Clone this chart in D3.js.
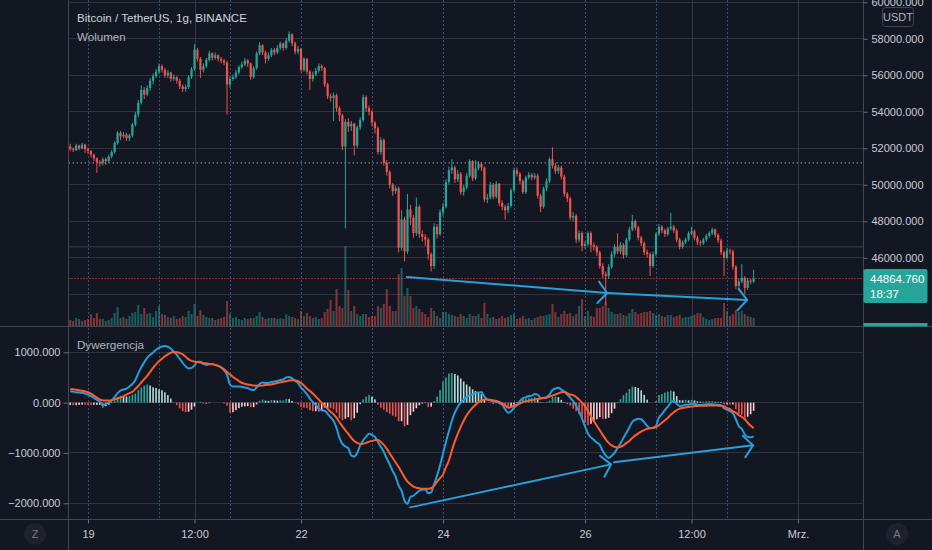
<!DOCTYPE html>
<html><head><meta charset="utf-8">
<script src="https://cdn.jsdelivr.net/npm/d3@7"></script>
<style>html,body{margin:0;padding:0;background:#131722;overflow:hidden}svg{display:block}text{font-family:"Liberation Sans",Arial,sans-serif}</style>
</head><body><svg id="c" width="932" height="550"></svg>
<script>
// ---------- DATA ----------
const firstBarTime = new Date(2021, 1, 18, 18, 0); // 1h bars, BTC/USDT Binance
const firstOpen = 52100;
const closes = [
51950,51900,52150,52000,52200,51950,51850,51650,51450,51250,
51200,51400,51300,51550,51800,52300,52850,52650,52750,52550,
52700,53300,53850,54500,55200,54950,55300,55700,55950,56200,
56500,56300,56000,56150,55800,55900,55700,55400,55250,55350,
55900,56350,57400,56900,56300,56500,56850,57200,56950,57100,
56900,56800,56700,55500,55800,55900,56150,56450,56600,56800,
56650,55900,56400,57200,57650,57250,56900,57100,57400,57250,
57500,57750,57500,57900,58250,57750,57300,57450,56300,56900,
56200,55800,56050,56250,56500,56400,55500,54850,54750,54900,
54200,53800,52100,53450,53200,53350,52150,53150,53550,54800,
54200,54000,53400,53100,51800,52450,51200,50700,50000,49650,
49800,46550,48100,46350,48650,48200,47350,48800,47300,47150,
47000,46200,45550,47700,47300,48500,48800,50150,50800,50950,
50300,50600,49600,49850,50500,51300,50350,50900,51150,50950,
49200,49300,50000,49350,50050,49000,48800,48600,48850,49700,
50800,50600,50200,49600,50400,50550,50400,50500,49400,48800,
49800,50200,51400,51050,50750,50950,50450,49500,49250,48200,
48300,47000,47350,46650,46750,47350,46700,46600,46300,45550,
45100,45000,45500,46200,46600,46350,46700,46150,47000,47550,
48000,47650,47100,46800,46300,46200,45550,46200,47300,47700,
47500,47300,47600,47700,47500,47000,46600,46850,47000,47350,
47450,47100,46850,46800,47000,47200,47350,47550,47250,46950,
46300,46000,46400,46350,45500,44450,44700,44900,44350,44750,
44700,44864.76];
const highs = [
52250,52050,52250,52200,52300,52250,52050,51900,51700,51500,
51350,51500,51500,51650,51900,52400,52950,52950,52900,52850,
52800,53400,54000,54650,55450,55350,55450,55850,56100,56350,
56650,56600,56400,56300,56200,56050,55950,55800,55500,55500,
56000,56450,57700,57500,57000,56650,56950,57350,57250,57250,
57150,57000,56900,56800,55950,56050,56300,56550,56750,56950,
56900,56700,56500,57300,57800,57700,57350,57250,57500,57500,
57650,57850,57800,58050,58400,58300,57850,57600,57500,57000,
56950,56300,56200,56400,56650,56600,56450,55600,55000,55050,
55000,54300,53900,53600,53650,53500,53400,53250,53700,54950,
54900,54350,54100,53500,53200,52600,52550,51350,50800,50100,
49950,49900,48600,48250,49500,48900,48350,49300,48900,47500,
47300,47100,46300,47900,47850,48650,49000,50300,51000,51400,
51050,50800,50700,50000,50650,51400,51350,51350,51300,51250,
51000,49500,50150,50100,50200,50100,49150,48900,49000,49800,
50950,50950,50700,50300,50500,50700,50650,50650,50600,49500,
49900,50350,51500,52050,51200,51100,51050,50550,49600,49350,
48500,48400,47500,47450,46900,47450,47450,46850,46700,46400,
45700,45250,45650,46350,46750,47350,46850,46800,47100,47700,
48350,48100,47750,47200,46900,46450,46300,46350,47400,47850,
47800,47600,47700,48450,47800,47600,47100,46950,47100,47450,
47700,47550,47200,46950,47100,47300,47450,47650,47600,47350,
47050,46400,46550,46500,46450,45600,44850,45650,45000,44900,
44850,45350];
const lows = [
51850,51800,51850,51900,51950,51750,51700,51500,51300,50650,
51000,51050,51100,51200,51450,51700,52200,52450,52550,52400,
52400,52600,53200,53700,54400,54700,54850,55150,55500,55850,
56100,56150,55850,55850,55650,55700,55550,55250,55100,55100,
55250,55800,56250,56750,55850,56150,56400,56750,56800,56850,
56750,56650,56550,53850,55300,55700,55800,56050,56350,56500,
56450,55750,55800,56300,57100,57100,56650,56800,57000,57100,
57150,57400,57350,57400,57800,57600,57150,57150,56150,56200,
56050,55200,55650,55950,56150,56250,55350,54700,54550,53500,
54000,53500,51900,47620,52900,52950,51600,52000,53000,53450,
54000,53800,53200,52800,51650,51650,51050,50500,49800,49400,
49500,46300,46400,45800,46200,47800,47100,47200,47100,46900,
46650,45900,45250,45400,47050,47200,48300,48700,50000,50600,
50100,50150,49450,49400,49750,50400,50200,50250,50800,50750,
49050,49000,49200,49200,49250,48850,48600,48100,48450,48750,
49600,50450,50050,49500,49500,50300,50250,50300,49250,48500,
48700,49650,50100,50900,50600,50600,50300,49350,49050,48050,
48000,46800,46850,46350,46500,46650,46300,46400,46100,45400,
44900,43400,44850,45400,46050,46200,46200,45950,46050,46900,
47450,47500,46950,46650,46150,46000,45000,45450,46100,47200,
47350,47150,47200,47500,47350,46850,46450,46500,46750,46900,
47250,46950,46700,46650,46700,46900,47100,47250,47100,46800,
46150,45000,45900,46200,45350,44300,44350,44600,44000,44250,
44550,44600];
const volumes = [
2400,2000,3200,2800,2000,2400,2800,4800,3200,5200,
2800,2800,2000,2400,3200,5200,7600,3200,3600,2800,
4000,5200,5600,8400,4800,7200,4800,5200,3600,6000,
8000,4800,4400,3600,3200,4000,2800,3200,4000,3600,
6000,4800,8800,4000,6400,4400,3600,3200,3200,2400,
2800,3200,3600,10000,4800,3200,3600,2800,2400,3200,
2800,3200,3200,4000,5600,3600,2800,3200,3200,3200,
2800,3200,2800,4800,4000,3600,3200,2800,6000,4000,
5200,4000,3200,3600,2800,3200,5600,6800,10400,6000,
14800,8000,7200,32000,14400,6000,8000,4800,4000,4800,
4800,3600,4000,4000,8000,7200,8800,14800,8000,6000,
6000,20800,23200,12000,15200,12000,7200,8000,6800,5600,
4800,3600,7200,6000,4000,3200,5600,5600,4800,4400,
4000,3600,4800,4000,3200,4800,4000,4000,4800,3200,
9200,4800,3200,3600,2800,3200,4000,3200,3600,4400,
4800,2800,3200,4000,2800,3200,2400,3200,3600,4000,
4000,4400,4800,8800,5600,3600,4800,6000,4800,5200,
4000,4800,8000,10800,4000,6000,4000,3600,7200,7200,
8000,9600,7200,5600,4800,4800,5200,4400,4000,5200,
6800,5600,4800,5200,5600,5600,6000,5200,4400,4800,
4000,3600,4400,4400,3600,4000,4400,3200,3600,3600,
4000,4400,5200,5200,3600,2800,2400,2800,3200,3200,
3200,9200,6000,4000,4800,6400,5600,6000,4800,4000,
3600,3200];
const macdLine = [
227,215,205,200,195,180,160,130,95,55,
20,-55,-30,0,40,110,190,240,260,280,
320,370,450,580,700,800,890,950,995,1050,
1090,1115,1125,1110,1070,1010,950,870,790,720,
680,690,740,810,810,770,750,760,765,750,
730,700,640,550,360,320,320,320,315,300,
290,260,250,300,370,400,390,390,410,420,
430,450,460,500,510,480,430,390,300,240,
170,80,10,-50,-120,-150,-160,-220,-290,-360,
-500,-700,-820,-870,-910,-1050,-1070,-1000,-850,-750,
-680,-620,-640,-680,-780,-880,-980,-1110,-1230,-1360,
-1470,-1650,-1750,-1950,-2010,-1870,-1850,-1800,-1750,-1730,
-1720,-1800,-1780,-1620,-1450,-1250,-1010,-780,-570,-360,
-200,-80,0,60,110,150,165,190,200,210,
120,60,45,20,25,-10,-40,-130,-200,-170,
-100,-50,30,90,110,130,140,170,160,90,
95,110,160,250,280,295,260,220,160,100,
30,-60,-170,-320,-470,-620,-690,-740,-790,-840,
-960,-1050,-1100,-1060,-1000,-900,-810,-700,-600,-490,
-380,-340,-320,-330,-390,-460,-510,-500,-460,-300,
-230,-150,-80,0,30,-20,-70,-60,-40,-40,
-20,-25,-40,-45,-40,-35,-30,-30,-40,-40,
-50,-110,-140,-170,-210,-330,-470,-520,-630,-680,
-690,-670];
const signalLine = [
273,265,255,245,235,222,207,180,140,100,
62,45,40,42,50,65,85,105,130,160,
190,215,270,330,400,465,530,610,690,760,
825,870,920,960,990,1005,1000,985,960,910,
860,830,815,805,795,790,780,770,765,750,
730,700,660,610,560,510,470,430,395,375,
360,350,340,335,333,340,350,355,360,375,
390,405,415,425,440,447,440,425,390,340,
280,230,180,120,60,0,-60,-120,-180,-230,
-300,-390,-470,-550,-620,-700,-760,-800,-820,-815,
-800,-775,-760,-745,-740,-780,-840,-920,-1010,-1100,
-1190,-1280,-1380,-1480,-1570,-1620,-1670,-1690,-1700,-1710,
-1710,-1710,-1700,-1650,-1570,-1500,-1430,-1280,-1150,-950,
-770,-620,-480,-360,-250,-170,-100,-40,10,40,
60,60,55,45,35,15,-20,-60,-100,-90,
-60,-40,-20,10,25,40,50,60,70,80,
90,95,120,140,160,185,205,210,190,160,
150,110,60,0,-70,-170,-270,-370,-460,-550,
-640,-730,-800,-850,-880,-890,-880,-850,-800,-760,
-700,-650,-610,-574,-545,-520,-507,-500,-490,-450,
-400,-350,-300,-240,-190,-150,-120,-105,-95,-85,
-75,-70,-66,-63,-60,-60,-58,-58,-58,-60,
-62,-75,-107,-130,-174,-200,-250,-280,-330,-400,
-460,-507];
const histogram = [
-46,-50,-50,-45,-40,-42,-47,-50,-45,-45,
-42,-100,-70,-42,-10,45,105,135,130,120,
130,155,180,250,300,335,360,340,305,290,
265,245,205,150,80,5,-50,-115,-170,-190,
-180,-140,-75,5,15,-20,-30,-10,0,0,
0,0,-20,-60,-200,-190,-150,-110,-80,-75,
-70,-90,-90,-35,37,60,40,35,50,45,
40,45,45,75,70,33,-10,-35,-90,-100,
-110,-150,-170,-170,-180,-150,-100,-100,-110,-130,
-200,-310,-350,-320,-290,-350,-310,-200,-30,65,
120,155,120,65,-40,-100,-140,-190,-220,-260,
-280,-370,-370,-470,-440,-250,-180,-110,-50,-20,
-10,-90,-80,30,120,250,420,500,580,590,
570,540,480,420,360,320,265,230,190,170,
60,0,-10,-25,-10,-25,-20,-70,-100,-80,
-40,-10,50,80,85,90,90,110,90,10,
5,15,40,110,120,110,55,10,-30,-60,
-120,-170,-230,-320,-400,-450,-420,-370,-330,-290,
-320,-320,-300,-210,-120,-10,70,150,200,270,
320,310,290,244,155,60,-3,0,30,150,
170,200,220,240,220,130,50,45,55,45,
55,45,26,18,20,25,28,28,18,20,
12,-35,-33,-40,-36,-130,-220,-240,-300,-280,
-230,-163];

const priceGrid = [44000,46000,48000,50000,52000,54000,56000,58000,60000];
const priceLabels = [46000,48000,50000,52000,54000,56000,58000,60000];
const macdTicks = [1000,0,-1000,-2000];
const timeTickLabels = ["19","12:00","22","24","26","12:00","Mrz."];
const timeTickDates = [new Date(2021,1,19), new Date(2021,1,20,12), new Date(2021,1,22), new Date(2021,1,24), new Date(2021,1,26), new Date(2021,1,27,12), new Date(2021,2,1)];
// drawings (data coordinates: bar position in hours from first bar, price / indicator value)
const dottedLevel = 51200, faintLevel = 46600;
const priceArrows = [[113.8,44950,181.5,44070],[181.5,44070,228.8,43690]];
const macdArrows = [[114.9,-2081,182.8,-1227],[183.8,-1185,230.8,-849]];
const countdown = "18:37";

// ---------- LAYOUT ----------
const PL = 68.5, PR = 863.5, MB = 326.5, ST = 327, SB = 519.5;
const x = d3.scaleTime().domain([new Date(2021,1,19), new Date(2021,2,1)]).range([88, 798]);
const yP = d3.scaleLinear().domain([44000, 60000]).range([294.3, 2.3]);
const yV = d3.scaleLinear().domain([0, 32000]).range([326, 246]);
const yM = d3.scaleLinear().domain([-2000, 1000]).range([503.3, 352.3]);
const hourT = h => new Date(firstBarTime.getTime() + h * 3600000);
const fmt = d3.format(".3f");

const opens = [firstOpen].concat(closes.slice(0, -1));
const bars = closes.map((c, i) => ({t: d3.timeHour.offset(firstBarTime, i), o: opens[i], c, h: highs[i], l: lows[i], v: volumes[i], m: macdLine[i], s: signalLine[i], hi: histogram[i], ph: i ? histogram[i-1] : histogram[i]}));

const UP = "#26a69a", DN = "#ef5350";
const svg = d3.select("#c");
svg.append("rect").attr("width", 932).attr("height", 550).attr("fill", "#131722");
const defs = svg.append("defs");
defs.append("clipPath").attr("id", "cm").append("rect").attr("x", PL).attr("y", 0).attr("width", PR - PL).attr("height", MB);
defs.append("clipPath").attr("id", "cs").append("rect").attr("x", PL).attr("y", ST).attr("width", PR - PL).attr("height", SB - ST);

// grid
const gridC = "#2e323d";
const grid = svg.append("g").attr("shape-rendering", "crispEdges");
grid.selectAll(".hp").data(priceGrid).join("line").attr("x1", PL).attr("x2", PR)
  .attr("y1", d => yP(d)).attr("y2", d => yP(d)).attr("stroke", gridC);
grid.selectAll(".hm").data(macdTicks).join("line").attr("x1", PL).attr("x2", PR)
  .attr("y1", d => yM(d)).attr("y2", d => yM(d)).attr("stroke", gridC);
const endDay = new Date(2021,2,1);
const solidT = timeTickDates.filter(d => d.getHours() !== 0 || d >= endDay);
grid.selectAll(".vs").data(solidT).join("line").attr("x1", d => Math.round(x(d)) + 0.5).attr("x2", d => Math.round(x(d)) + 0.5)
  .attr("y1", 0).attr("y2", SB).attr("stroke", "#353945");
const breaks = d3.timeDay.range(new Date(2021,1,19), endDay);
grid.selectAll(".vb").data(breaks).join("line").attr("x1", d => Math.round(x(d)) + 0.5).attr("x2", d => Math.round(x(d)) + 0.5)
  .attr("y1", 0).attr("y2", SB).attr("stroke", "#3a4e6e").attr("stroke-dasharray", "2,2");

// main pane
const main = svg.append("g").attr("clip-path", "url(#cm)");
main.append("line").attr("x1", PL).attr("x2", PR).attr("y1", yP(faintLevel)).attr("y2", yP(faintLevel)).attr("stroke", "#3a3e4a");
main.append("line").attr("x1", PL).attr("x2", PR).attr("y1", yP(dottedLevel)).attr("y2", yP(dottedLevel))
  .attr("stroke", "#9a9da6").attr("stroke-dasharray", "1.5,2.5");
main.selectAll(".vol").data(bars).join("rect")
  .attr("x", d => x(d.t) - 1).attr("width", 2).attr("y", d => yV(d.v)).attr("height", d => yV(0) - yV(d.v))
  .attr("fill", d => d.c >= d.o ? UP : DN).attr("fill-opacity", 0.5);
main.append("line").attr("x1", PL).attr("x2", PR).attr("y1", yP(closes[closes.length-1])).attr("y2", yP(closes[closes.length-1]))
  .attr("stroke", DN).attr("stroke-dasharray", "1,2");
main.selectAll(".wick").data(bars).join("line")
  .attr("x1", d => x(d.t)).attr("x2", d => x(d.t)).attr("y1", d => yP(d.h)).attr("y2", d => yP(d.l))
  .attr("stroke", d => d.c >= d.o ? UP : DN).attr("stroke-width", 1);
main.selectAll(".body").data(bars).join("rect")
  .attr("x", d => x(d.t) - 1.1).attr("width", 2.2)
  .attr("y", d => yP(Math.max(d.o, d.c))).attr("height", d => Math.max(1, yP(Math.min(d.o, d.c)) - yP(Math.max(d.o, d.c))))
  .attr("fill", d => d.c >= d.o ? UP : DN);

function arrow(g, a, ys) {
  const x0 = x(hourT(a[0])), y0 = ys(a[1]), x1 = x(hourT(a[2])), y1 = ys(a[3]);
  g.append("line").attr("x1", x0).attr("y1", y0).attr("x2", x1).attr("y2", y1);
  const ang = Math.atan2(y1 - y0, x1 - x0), len = 14, spread = 0.87;
  const p = s => [x1 - len * Math.cos(ang + s), y1 - len * Math.sin(ang + s)];
  const a1 = p(spread), a2 = p(-spread);
  g.append("path").attr("d", `M${a1[0]},${a1[1]}L${x1},${y1}L${a2[0]},${a2[1]}`).attr("fill", "none");
}
const ga = main.append("g").attr("stroke", "#2aa0db").attr("stroke-width", 2).attr("stroke-linecap", "round");
priceArrows.forEach(a => arrow(ga, a, yP));

// MACD pane
const sub = svg.append("g").attr("clip-path", "url(#cs)");
sub.selectAll(".hist").data(bars).join("rect")
  .attr("x", d => x(d.t) - 0.8).attr("width", 1.6)
  .attr("y", d => Math.min(yM(0), yM(d.hi))).attr("height", d => Math.abs(yM(d.hi) - yM(0)))
  .attr("fill", d => d.hi >= 0 ? (d.hi >= d.ph ? "#26a69a" : "#b2dfdb") : (d.hi < d.ph ? "#ef5350" : "#ffcdd2"));
const lm = d3.line().x(d => x(d.t)).curve(d3.curveMonotoneX);
sub.append("path").datum(bars).attr("d", lm.y(d => yM(d.m))).attr("fill", "none").attr("stroke", "#1f9fdc").attr("stroke-width", 2);
sub.append("path").datum(bars).attr("d", lm.y(d => yM(d.s))).attr("fill", "none").attr("stroke", "#ff5b2e").attr("stroke-width", 2);
const gb = sub.append("g").attr("stroke", "#2aa0db").attr("stroke-width", 2).attr("stroke-linecap", "round");
macdArrows.forEach(a => arrow(gb, a, yM));

// separators
const sep = svg.append("g").attr("stroke", "#434651").attr("shape-rendering", "crispEdges");
sep.append("line").attr("x1", 0).attr("x2", 932).attr("y1", MB).attr("y2", MB);
sep.append("line").attr("x1", 0).attr("x2", 932).attr("y1", SB).attr("y2", SB);
sep.append("line").attr("x1", PL).attr("x2", PL).attr("y1", 0).attr("y2", 550);
sep.append("line").attr("x1", PR).attr("x2", PR).attr("y1", 0).attr("y2", 550);

// axes
const axTxt = "#c9ccd4";
const ra = svg.append("g").attr("transform", `translate(${PR},0)`)
  .call(d3.axisRight(yP).tickValues(priceLabels).tickSize(4).tickPadding(4).tickFormat(fmt));
const la = svg.append("g").attr("transform", `translate(${PL},0)`)
  .call(d3.axisLeft(yM).tickValues(macdTicks).tickSize(5).tickPadding(3).tickFormat(fmt));
const ba = svg.append("g").attr("transform", `translate(0,${SB})`)
  .call(d3.axisBottom(x).tickValues(timeTickDates).tickSize(4).tickPadding(7).tickFormat((d, i) => timeTickLabels[i]));
[ra, la, ba].forEach(a => {
  a.select(".domain").remove();
  a.selectAll("line").attr("stroke", "#6a6d78");
  a.selectAll("text").attr("fill", axTxt).style("font-size", "11px").style("font-family", '"Liberation Sans",Arial,sans-serif');
});

// USDT badge
svg.append("rect").attr("x", 882.5).attr("y", 7.5).attr("width", 31).attr("height", 19).attr("rx", 3)
  .attr("fill", "#131722").attr("stroke", "#434651");
svg.append("text").attr("x", 898).attr("y", 21).attr("text-anchor", "middle").attr("fill", "#b2b5be").style("font-size", "11px").text("USDT");

// last price label
svg.append("rect").attr("x", PR).attr("y", 269).attr("width", 64).attr("height", 34).attr("rx", 2).attr("fill", "#26a69a");
svg.append("text").attr("x", 870).attr("y", yP(closes[closes.length-1]) + 4).attr("fill", "#ffffff").style("font-size", "11.5px").text(fmt(closes[closes.length-1]));
svg.append("text").attr("x", 870).attr("y", 298).attr("fill", "#ffffff").style("font-size", "11.5px").text(countdown);
svg.append("rect").attr("x", PR).attr("y", 323).attr("width", 64).attr("height", 3.5).attr("fill", "#26a69a");

// titles
svg.append("text").attr("x", 77).attr("y", 22).attr("fill", "#d1d4dc").style("font-size", "11.6px").text("Bitcoin / TetherUS, 1g, BINANCE");
svg.append("text").attr("x", 77).attr("y", 41).attr("fill", "#b2b5be").style("font-size", "11.6px").text("Wolumen");
svg.append("text").attr("x", 77).attr("y", 349).attr("fill", "#b2b5be").style("font-size", "11.6px").text("Dywergencja");

// corner buttons
[[35, "Z"], [897, "A"]].forEach(([cx, t]) => {
  svg.append("circle").attr("cx", cx).attr("cy", 534).attr("r", 11).attr("fill", "#1e222d");
  svg.append("text").attr("x", cx).attr("y", 538).attr("text-anchor", "middle").attr("fill", "#787b86").style("font-size", "11px").text(t);
});
</script></body></html>
